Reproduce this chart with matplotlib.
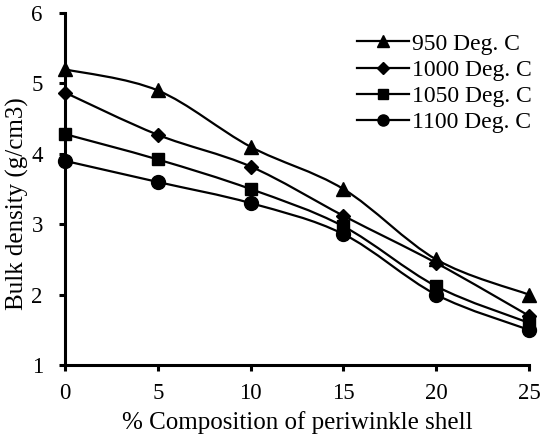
import numpy as np
import matplotlib
matplotlib.use("Agg")
import matplotlib.pyplot as plt
from matplotlib.path import Path
from matplotlib.patches import PathPatch

plt.rcParams["font.family"] = ["Liberation Serif", "DejaVu Serif"]

composition = [0, 5, 10, 15, 20, 25]
labels = ["950 Deg. C", "1000 Deg. C", "1050 Deg. C", "1100 Deg. C"]
density_950 = [5.2, 4.9, 4.1, 3.5, 2.5, 2.0]
density_1000 = [4.87, 4.27, 3.82, 3.12, 2.45, 1.7]
density_1050 = [4.28, 3.92, 3.5, 2.97, 2.12, 1.6]
density_1100 = [3.9, 3.6, 3.3, 2.86, 2.0, 1.5]
markers = ["^", "D", "s", "o"]
msizes = [10, 7.5, 9, 10]


def smooth_path(x, y, t=1 / 6):
    # excel-like smoothed line: cubic bezier through the points
    x = np.asarray(x, float)
    y = np.asarray(y, float)
    verts = [(x[0], y[0])]
    codes = [Path.MOVETO]
    n = len(x)
    for i in range(n - 1):
        x0, y0 = (x[i - 1], y[i - 1]) if i > 0 else (x[i], y[i])
        x3, y3 = (x[i + 2], y[i + 2]) if i + 2 < n else (x[i + 1], y[i + 1])
        c1 = (x[i] + (x[i + 1] - x0) * t, y[i] + (y[i + 1] - y0) * t)
        c2 = (x[i + 1] - (x3 - x[i]) * t, y[i + 1] - (y3 - y[i]) * t)
        verts += [c1, c2, (x[i + 1], y[i + 1])]
        codes += [Path.CURVE4] * 3
    return Path(verts, codes)


fig = plt.figure(figsize=(5.42, 4.42), dpi=100)
ax = fig.add_axes([0.12, 0.174, 0.856, 0.7966])

series = [density_950, density_1000, density_1050, density_1100]
for vals, lab, m, ms in zip(series, labels, markers, msizes):
    ax.add_patch(PathPatch(smooth_path(composition, vals), fill=False,
                           edgecolor="black", lw=1.6, zorder=2))
    ax.plot(composition, vals, ls="none", marker=m, ms=ms, color="black",
            zorder=3, clip_on=False)
    ax.plot([], [], color="black", lw=1.6, marker=m, ms=ms * 0.8, label=lab)

ax.set_xlim(0, 25)
ax.set_ylim(1, 6)
ax.set_xticks([0, 5, 10, 15, 20, 25])
ax.set_yticks([1, 2, 3, 4, 5, 6])
ax.spines["top"].set_visible(False)
ax.spines["right"].set_visible(False)
for s in ["left", "bottom"]:
    ax.spines[s].set_linewidth(2.2)
ax.tick_params(axis="both", direction="out", width=2.2, length=4,
               labelsize=16.5)
ax.tick_params(axis="x", pad=9)
ax.tick_params(axis="y", pad=12)
ax.set_xlabel("% Composition of periwinkle shell", fontsize=18)
ax.set_ylabel("Bulk density (g/cm3)", fontsize=18)
ax.xaxis.set_label_coords(0.5, -0.13)
ax.yaxis.set_label_coords(-0.077, 0.46)

ax.legend(loc="upper left", bbox_to_anchor=(357 / 542, 1 - 33 / 442),
          bbox_transform=fig.transFigure, frameon=False,
          fontsize=17, handlelength=2.2, handletextpad=0.12,
          labelspacing=0.2, borderpad=0, borderaxespad=0)

fig.savefig("out.png", dpi=100)
